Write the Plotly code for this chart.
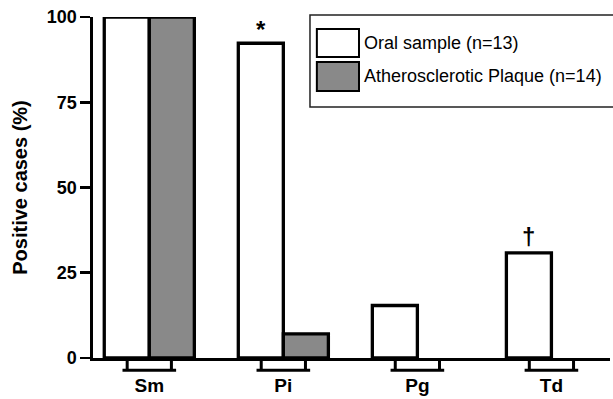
import plotly.graph_objects as go

categories = ["Sm", "Pi", "Pg", "Td"]
oral = [100, 92.3, 15.4, 30.8]
plaque = [100, 7.1, 0, 0]
series_names = ["Oral sample (n=13)", "Atherosclerotic Plaque (n=14)"]
marks = {"Pi": "*", "Td": "†"}
y_ticks = [0, 25, 50, 75, 100]

GRAY = "#898989"
FONT = "Liberation Sans, Arial, sans-serif"
idx = list(range(len(categories)))
BW = 0.336  # bar width in category units


def drawn(vals):
    # zero-height bars are not drawn in the reference
    return [v if v > 0 else None for v in vals]


fig = go.Figure()
fig.add_trace(go.Bar(x=idx, y=drawn(oral), name=series_names[0], width=BW, offset=-BW,
                     marker=dict(color="white", line=dict(color="black", width=3.3)),
                     showlegend=False, hoverinfo="skip"))
fig.add_trace(go.Bar(x=idx, y=drawn(plaque), name=series_names[1], width=BW, offset=0,
                     marker=dict(color=GRAY, line=dict(color="black", width=3.3)),
                     showlegend=False, hoverinfo="skip"))

shapes = []
# group brackets under the axis
for i in idx:
    shapes.append(dict(type="path", xref="x", yref="paper",
                       path=f"M{i-0.165},0 L{i-0.165},-0.036 M{i+0.165},0 L{i+0.165},-0.036",
                       line=dict(color="black", width=3)))
    shapes.append(dict(type="line", xref="x", yref="paper", x0=i-0.2, x1=i+0.2,
                       y0=-0.036, y1=-0.036, line=dict(color="black", width=3)))

# manual legend
shapes.append(dict(type="rect", xref="paper", yref="paper", x0=0.4197, x1=1.03,
                   y0=0.736, y1=1.006, line=dict(color="#222", width=1.5), fillcolor="white",
                   layer="above"))
shapes.append(dict(type="rect", xref="paper", yref="paper", x0=0.433, x1=0.5145,
                   y0=0.883, y1=0.965, line=dict(color="black", width=2), fillcolor="white",
                   layer="above"))
shapes.append(dict(type="rect", xref="paper", yref="paper", x0=0.433, x1=0.5145,
                   y0=0.783, y1=0.868, line=dict(color="black", width=2), fillcolor=GRAY,
                   layer="above"))

annotations = [
    dict(x=0.521, y=0.924, xref="paper", yref="paper", text=series_names[0],
         showarrow=False, xanchor="left", yanchor="middle",
         font=dict(family=FONT, size=18, color="black")),
    dict(x=0.521, y=0.826, xref="paper", yref="paper", text=series_names[1],
         showarrow=False, xanchor="left", yanchor="middle",
         font=dict(family=FONT, size=18, color="black")),
]
for c, m in marks.items():
    i = categories.index(c)
    annotations.append(dict(x=i - BW / 2, y=oral[i], xref="x", yref="y", text=f"<b>{m}</b>",
                            showarrow=False, xanchor="center", yanchor="bottom",
                            yshift=(-2 if m == "*" else 1),
                            font=dict(family=FONT, size=24, color="black")))

fig.update_layout(
    width=613, height=399,
    margin=dict(l=93, r=3, t=17, b=41),
    plot_bgcolor="white", paper_bgcolor="white",
    barmode="overlay",
    shapes=shapes, annotations=annotations,
    font=dict(family=FONT, color="black"),
)
fig.update_xaxes(range=[-0.42, 3.437], tickvals=idx, ticktext=[f"<b>{c}</b>" for c in categories],
                 ticks="", showline=True, linecolor="black", linewidth=2.7, showgrid=False,
                 zeroline=False, ticklabelstandoff=8, automargin=False,
                 tickfont=dict(family=FONT, size=19, color="black"))
fig.update_yaxes(range=[0, 100], tickvals=y_ticks, ticks="outside", ticklen=10, tickwidth=2.7,
                 tickcolor="black", showline=True, linecolor="black", linewidth=2.7,
                 showgrid=False, zeroline=False, automargin=False,
                 tickfont=dict(family=FONT, size=18, color="black"),
                 ticktext=[f"<b>{v}</b>" for v in y_ticks],
                 title=dict(text="<b>Positive cases (%)</b>", standoff=14,
                            font=dict(family=FONT, size=20, color="black")))

fig.write_html("out.html", config={"displayModeBar": False, "staticPlot": True},
               post_script="document.body.style.margin='0';")
